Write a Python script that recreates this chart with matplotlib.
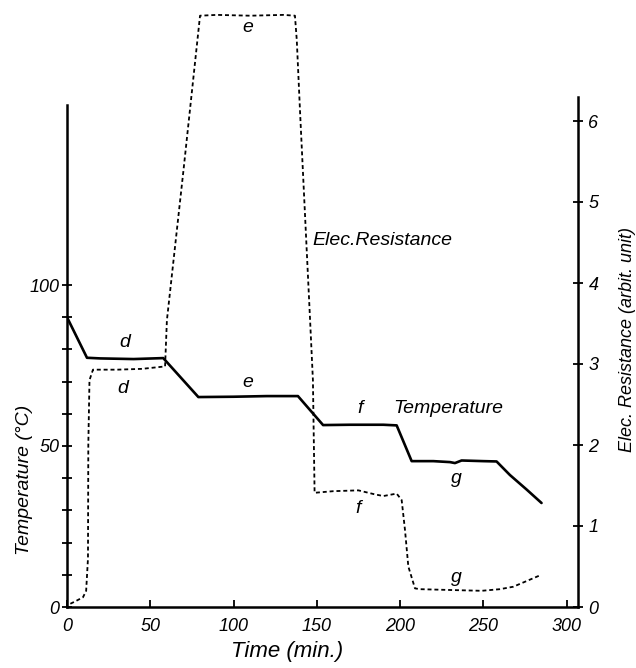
import matplotlib
matplotlib.use("Agg")
import matplotlib.pyplot as plt
import numpy as np

plt.rcParams["font.family"] = ["Liberation Sans", "DejaVu Sans"]
plt.rcParams["font.style"] = "italic"

# temperature curve (solid), deg C vs minutes
time_temp = [0, 12, 20, 40, 57.8, 78.9, 100, 120, 138.7, 153.8, 170, 190, 198, 207, 220, 230, 233, 237, 250, 258, 266, 276, 285]
temp = [90, 77.4, 77.2, 77.0, 77.3, 65.2, 65.3, 65.5, 65.5, 56.5, 56.6, 56.6, 56.4, 45.3, 45.3, 45.0, 44.7, 45.5, 45.3, 45.2, 41.0, 36.5, 32.3]

# electrical resistance (dashed), arbitrary units
time_res = [2, 5, 9.6, 11.5, 12.6, 12.8, 13.5, 15.6, 30, 45, 58.9, 60, 70, 79.9, 90, 110, 130, 136.9, 138, 140, 146, 147.7, 148.7,
            160, 175, 185, 190, 198, 201, 203, 205, 209, 212, 230, 249, 260, 268, 284]
res = [0.04, 0.07, 0.12, 0.2, 0.6, 2.0, 2.8, 2.93, 2.93, 2.94, 2.97, 3.54, 5.4, 7.3, 7.31, 7.3, 7.31, 7.3, 7.0, 6.1, 3.54, 2.8, 1.41,
       1.43, 1.44, 1.39, 1.37, 1.40, 1.32, 0.95, 0.50, 0.23, 0.22, 0.21, 0.20, 0.22, 0.25, 0.39]

x_ticks = [0, 50, 100, 150, 200, 250, 300]
temp_ticks = [0, 50, 100]
temp_minor = [10, 20, 30, 40, 60, 70, 80, 90]
res_ticks = [0, 1, 2, 3, 4, 5, 6]

W, H = 636, 668
fig = plt.figure(figsize=(W / 100, H / 100), dpi=100)
ax = fig.add_axes([67 / W, 61 / H, (578 - 67) / W, 607 / H])
ax.set_xlim(0, (578 - 67) / 1.665)
ax.set_ylim(0, 607 / 3.22)
ax2 = ax.twinx()
ax2.set_ylim(0, 607 / 81)

ax.plot(time_temp, temp, color="black", lw=1.9, solid_capstyle="round")
ax2.plot(time_res, res, color="black", lw=1.3, ls=(0, (2.2, 1.6)))

for s in ["top", "right"]:
    ax.spines[s].set_visible(False)
for s in ["top", "left", "bottom"]:
    ax2.spines[s].set_visible(False)
ax.spines["left"].set_bounds(0, 156)
ax.spines["left"].set_linewidth(1.8)
ax.spines["bottom"].set_linewidth(1.8)
ax2.spines["right"].set_bounds(0, 6.3)
ax2.spines["right"].set_linewidth(1.8)

ax.set_xticks(x_ticks)
ax.set_xticklabels([str(v) for v in x_ticks])
ax.tick_params(axis="x", direction="in", length=5, width=1.3, labelsize=13, pad=8)
ax.set_yticks(temp_ticks)
ax.set_yticklabels([str(v) for v in temp_ticks])
ax.set_yticks(temp_minor, minor=True)
ax.tick_params(axis="y", which="both", direction="inout", length=7, width=1.3, labelsize=13, pad=2)
ax2.set_yticks(res_ticks)
ax2.set_yticklabels([str(v) for v in res_ticks])
ax2.tick_params(axis="y", direction="inout", length=7, width=1.3, labelsize=13, pad=4)

fs = 14
ax.text(34.8, 82, "d", ha="center", va="center", fontsize=fs)
ax2.text(33.6, 2.70, "d", ha="center", va="center", fontsize=fs)
ax.text(108.7, 69.6, "e", ha="center", va="center", fontsize=fs)
ax2.text(108.7, 7.15, "e", ha="center", va="center", fontsize=fs)
ax.text(176, 61.8, "f", ha="center", va="center", fontsize=fs)
ax.text(229, 61.8, "Temperature", ha="center", va="center", fontsize=fs)
ax2.text(175, 1.22, "f", ha="center", va="center", fontsize=fs)
ax.text(234, 40, "g", ha="center", va="center", fontsize=fs)
ax2.text(234, 0.37, "g", ha="center", va="center", fontsize=fs)
ax2.text(147.5, 4.53, "Elec.Resistance", ha="left", va="center", fontsize=fs)

fig.text(25 / W, 1 - 480 / H, "Temperature (°C)", rotation=90, ha="center", va="center", fontsize=14)
fig.text(628 / W, 1 - 340 / H, "Elec. Resistance (arbit. unit)", rotation=90, ha="center", va="center", fontsize=13)
fig.text(287 / W, 1 - 652 / H, "Time (min.)", ha="center", va="center", fontsize=16)

fig.savefig("out.png", dpi=100)
